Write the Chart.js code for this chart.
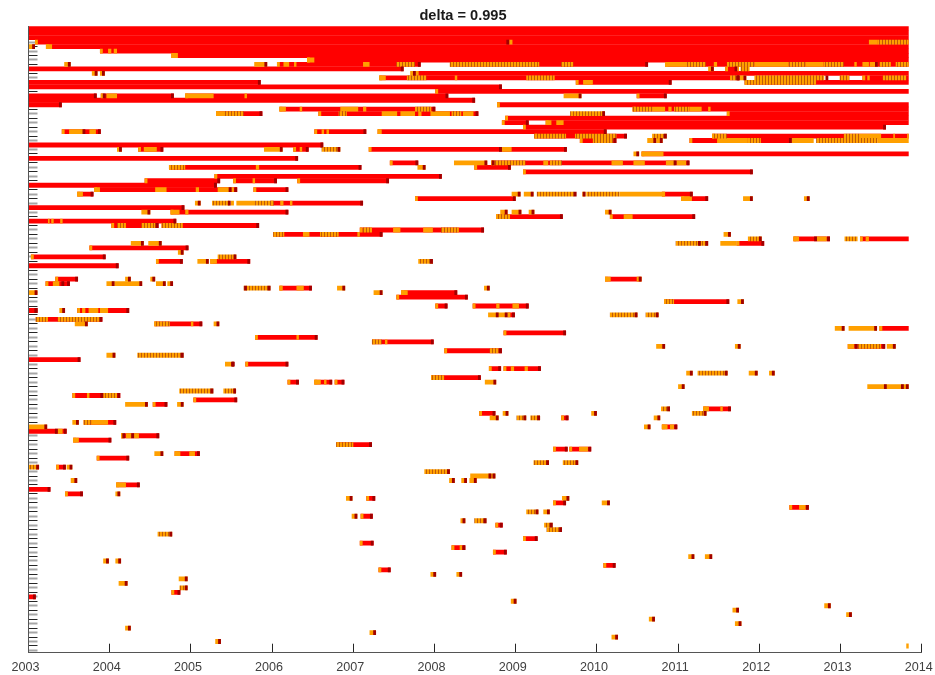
<!DOCTYPE html>
<html>
<head>
<meta charset="utf-8">
<title>delta = 0.995</title>
<script src="https://cdn.jsdelivr.net/npm/chart.js@4"></script>
<style>
  html, body { margin: 0; background: #fff; }
  canvas { display: block; }
</style>
</head>
<body>
<canvas id="chart" width="935" height="675"></canvas>
<script>
// x values are years since the start of 2003, y values are row numbers (0 = top row)
const yearTicks = [0, 1, 2, 3, 4, 5, 6, 7, 8, 9, 10, 11];
const yearLabels = ['2003', '2004', '2005', '2006', '2007', '2008', '2009', '2010', '2011', '2012', '2013', '2014'];
const lastWeek = 10.84;

// long spells: [row, from, to]
const redRuns = [
  [0,0,10.84],[1,0,10.84],[2,0,10.84],[3,.08,10.84],[4,.215,10.84],[5,.88,10.84],[6,1.76,10.84],[7,3.43,10.84],
  [8,3.06,4.83],[8,5.19,7.63],[8,7.84,10.84],[9,0,4.62],[9,8.58,8.73],[10,4.77,10.84],[11,4.32,8.76],[11,10.27,10.84],
  [12,0,2.86],[12,6.74,7.92],[12,8.82,10.84],[13,0,5.83],[14,5.01,10.84],[15,0,.84],[15,.89,1.79],[15,1.93,5.17],[15,7.49,7.86],
  [16,0,5.50],[17,0,.41],[17,5.77,10.84],[18,3.09,5.01],[18,7.44,10.84],[19,2.31,2.88],[19,3.57,5.54],[19,8.60,10.84],
  [20,5.87,10.84],[21,5.83,6.16],[21,6.37,10.84],[22,6.09,10.56],[23,.41,.89],[23,3.52,4.16],[23,4.30,7.12],
  [24,6.23,7.37],[24,8.42,10.84],[25,6.79,7.24],[25,8.14,9.40],[26,0,3.63],[27,1.35,1.66],[27,3.26,3.45],[27,4.19,6.63],
  [28,7.55,10.84],[29,0,3.32],[30,4.45,4.80],[30,5.70,8.14],[31,1.73,4.10],[31,5.49,5.94],[32,6.09,8.92],[33,2.29,5.09],
  [34,1.43,2.36],[34,2.52,3.06],[34,3.31,4.44],[35,0,2.32],[36,.81,2.57],[36,2.77,3.20],[37,.60,.80],[37,7.80,8.18],
  [38,4.76,6.00],[38,8.04,8.37],[39,2.98,4.12],[40,0,1.92],[41,1.75,3.20],[42,5.76,6.58],[42,7.16,8.21],[43,0,1.82],
  [44,1.02,1.60],[44,1.64,2.84],[45,4.08,5.61],[46,3.015,4.36],[47,9.42,9.87],[47,10.24,10.84],[48,8.72,9.06],[49,.75,1.97],
  [51,.03,.95],[52,1.57,1.90],[52,2.24,2.73],[53,0,1.11],[56,.33,.61],[56,7.10,7.55],[57,.21,.51],[58,3.09,3.49],
  [59,4.59,5.28],[60,4.53,5.41],[61,7.83,8.63],[62,5.01,5.16],[62,5.47,6.16],[63,0,.11],[63,.60,1.24],[64,5.90,5.99],
  [65,.09,.91],[66,1.55,2.14],[67,10.48,10.84],[68,5.85,6.62],[69,2.79,3.56],[70,4.23,4.99],[71,10.09,10.55],[72,5.12,5.83],
  [74,0,.64],[75,2.67,3.20],[76,5.67,5.82],[76,5.85,6.31],[78,4.96,5.57],[79,3.19,3.33],[79,3.52,3.74],[79,3.77,3.89],
  [82,.54,1.13],[83,2.03,2.57],[84,1.53,1.71],[85,8.31,8.65],[86,5.55,5.75],[87,6.56,6.65],[88,.68,1.08],[89,7.80,7.99],
  [90,0,.47],[91,1.14,1.61],[92,.55,1.02],[93,3.79,4.23],[94,6.46,6.64],[94,6.66,6.93],[95,1.80,2.11],[96,.84,1.24],
  [98,.34,.46],[102,1.08,1.37],[103,0,.27],[104,.45,.67],[105,4.16,4.27],[106,6.46,6.62],[107,9.37,9.61],[109,4.09,4.24],
  [111,5.75,5.84],[114,6.09,6.27],[115,4.08,4.25],[116,5.21,5.38],[117,5.72,5.89],[120,7.08,7.23],[121,4.31,4.46],
  [126,1.76,1.87],[127,0,.09]
];

// plain orange stretches inside the spells above
const orangeRuns = [
  [3,5.92,5.96],[4,.215,.29],[5,.98,1.02],[5,1.05,1.09],[6,1.76,1.84],[7,3.43,3.52],[8,3.14,3.21],[8,3.27,3.30],[8,4.12,4.20],
  [8,7.84,8.11],[8,8.44,8.48],[8,8.94,9.36],[8,9.57,9.79],[8,10.17,10.20],[8,10.27,10.35],[8,10.36,10.46],[9,8.73,8.75],
  [11,4.32,4.40],[11,5.25,5.28],[11,10.33,10.36],[12,6.83,6.95],[15,.96,1.09],[15,1.93,2.28],[15,2.66,2.69],
  [18,3.09,3.17],[18,3.34,3.37],[18,3.84,4.06],[18,4.12,4.16],[18,7.69,7.84],[18,7.88,7.92],[18,8.14,8.29],[18,8.37,8.40],
  [19,2.31,2.42],[19,4.35,4.54],[19,4.58,4.76],[19,4.80,4.84],[19,4.95,5.19],[19,5.35,5.48],[21,6.37,6.44],[21,6.50,6.59],
  [23,.50,.68],[23,.75,.83],[23,3.61,3.64],[23,3.67,3.70],[23,4.30,4.35],[24,10.24,10.50],[24,10.65,10.67],[24,10.82,10.84],
  [25,8.48,8.86],[25,9.40,9.67],[25,10.46,10.84],[27,1.42,1.58],[27,3.34,3.37],[27,5.83,5.95],[28,7.55,7.82],
  [30,6.34,6.40],[30,7.18,7.32],[30,7.45,7.59],[30,7.85,7.96],[30,7.98,8.10],[31,2.80,2.84],[34,2.76,2.79],
  [36,.81,.88],[36,1.56,1.70],[36,2.06,2.10],[36,2.33,2.48],[36,2.50,2.53],[37,.60,.67],[37,7.28,7.84],[38,8.04,8.17],
  [39,2.49,2.53],[39,2.56,2.79],[39,3.10,3.14],[39,3.22,3.25],[41,1.75,1.86],[41,1.93,1.97],[42,7.33,7.44],[43,.24,.26],[43,.28,.31],[43,.39,.42],
  [45,4.49,4.58],[45,4.86,4.98],[46,3.38,3.46],[46,4.05,4.08],[47,9.42,9.49],[47,9.71,9.83],[47,10.31,10.35],
  [52,2.24,2.32],[56,7.10,7.17],[56,7.49,7.55],[57,.30,.38],[58,3.30,3.39],[58,3.09,3.13],[59,4.59,4.67],
  [62,5.76,5.80],[62,5.96,6.04],[63,.66,.70],[63,.74,.86],[63,.88,.98],[66,2.00,2.03],[67,10.48,10.51],[69,3.30,3.33],
  [70,4.39,4.42],[71,10.09,10.17],[76,5.94,5.98],[76,6.11,6.15],[79,3.52,3.60],[79,3.64,3.67],[82,.72,.75],
  [85,8.31,8.38],[85,8.52,8.55],[88,.78,.98],[89,7.80,7.87],[89,7.90,7.95],[90,.36,.42],[91,1.14,1.17],[91,1.20,1.27],[91,1.30,1.36],
  [94,6.78,6.89],[95,1.80,1.87],[95,1.98,2.05],[102,1.08,1.20],[107,9.49,9.57],[116,5.31,5.34],[92,.55,.62]
];

// stretches where orange and darker weeks alternate
const stripeRuns = [
  [3,10.46,10.84],[8,4.53,4.76],[8,5.19,6.29],[8,6.56,6.71],[8,8.10,8.34],[8,8.60,8.94],[8,9.36,9.57],[8,9.79,10.04],[8,10.48,10.62],[8,10.68,10.84],
  [9,8.77,8.88],[11,4.66,4.90],[11,6.13,6.48],[11,8.64,8.76],[11,8.94,9.80],[11,9.99,10.11],[11,10.52,10.81],[12,8.82,9.70],
  [18,4.76,4.96],[18,7.44,7.69],[18,7.95,8.14],[19,2.42,2.65],[19,3.82,3.92],[19,5.21,5.33],
  [24,6.23,6.62],[24,6.73,7.24],[24,8.42,8.60],[24,10.04,10.24],[25,6.95,7.20],[25,8.86,9.02],[25,9.70,10.46],
  [30,5.70,6.12],[30,6.42,6.57],[31,1.73,1.93],[37,6.26,6.72],[37,6.87,7.28],[39,2.26,2.48],[39,2.79,3.02],[42,5.76,5.93],[44,1.09,1.20],[44,1.39,1.57],[44,1.64,1.90],
  [45,4.12,4.23],[45,5.08,5.30],[46,3.015,3.15],[46,3.59,3.82],[61,7.83,7.95],[65,.09,.24],[65,.36,.88],[66,1.55,1.74],
  [70,4.23,4.35],[71,10.21,10.50],[72,5.68,5.79],[78,4.96,5.12],[82,.92,1.09],[88,.68,.78],[93,3.79,4.00],[47,10.05,10.21]
];

// short orange episodes closed by a dark week: [row, from, to]
const blipRuns = [
  [4,0,.08],[8,.44,.52],[8,2.78,2.94],[9,8.37,8.44],[10,.78,.85],[10,.88,.94],[10,4.70,4.77],[11,8.76,8.84],[15,6.59,6.81],
  [25,7.62,7.73],[25,7.73,7.81],[27,1.09,1.15],[27,2.90,3.13],[28,7.45,7.52],[30,5.24,5.65],[31,4.79,4.89],
  [37,5.95,6.06],[37,6.10,6.22],[37,6.82,6.86],[38,8.80,8.92],[38,9.55,9.62],[39,2.05,2.12],[41,1.39,1.50],[41,5.81,5.90],
  [41,5.95,6.07],[41,6.16,6.23],[41,7.10,7.18],[46,8.56,8.65],[48,1.26,1.42],[48,1.475,1.64],[50,1.84,1.91],[52,2.08,2.22],
  [56,1.19,1.26],[56,1.50,1.56],[57,.96,1.06],[57,1.06,1.40],[57,1.57,1.69],[57,1.71,1.78],[58,3.80,3.90],[58,5.61,5.68],
  [59,0,.11],[59,4.25,4.36],[61,8.73,8.81],[63,.38,.45],[64,5.66,5.90],[66,.57,.73],[66,2.28,2.35],[67,9.93,10.05],[67,10.10,10.45],
  [71,7.73,7.84],[71,8.70,8.77],[71,10.57,10.68],[73,.96,1.07],[75,2.42,2.53],[77,8.10,8.18],[77,8.87,8.98],[77,9.12,9.19],
  [79,5.62,5.76],[80,8.00,8.08],[84,1.19,1.47],[84,1.83,1.91],[86,5.84,5.91],[86,6.93,7.00],[87,5.68,5.79],[87,7.70,7.78],
  [88,.54,.62],[89,0,.23],[89,7.58,7.66],[95,1.55,1.66],[98,.47,.54],[100,5.44,5.75],[101,.52,.60],[101,5.18,5.25],[101,5.33,5.40],
  [101,5.43,5.52],[104,1.07,1.13],[105,3.91,3.99],[105,6.57,6.66],[106,7.06,7.16],[108,6.34,6.42],[109,3.98,4.05],[110,5.32,5.38],
  [118,8.125,8.20],[118,8.33,8.42],[119,.92,.99],[119,1.07,1.14],[122,4.95,5.02],[122,5.27,5.34],[123,1.85,1.96],[124,1.11,1.22],
  [128,5.94,6.01],[129,9.80,9.88],[130,8.67,8.75],[131,10.07,10.14],[132,7.64,7.715],[133,8.70,8.78],[134,1.19,1.26],
  [135,4.20,4.28],[136,7.18,7.26],[137,2.30,2.37]
];

// striped episodes closed by a dark week
const stripeBlips = [
  [19,6.67,7.10],[24,7.68,7.86],[27,3.61,3.84],[47,8.86,9.03],[48,7.97,8.37],[51,2.33,2.56],[52,4.80,4.98],
  [58,2.65,2.98],[64,7.16,7.50],[64,7.60,7.76],[73,1.34,1.91],[77,8.24,8.61],[81,1.857,2.276],[81,2.40,2.556],[85,7.79,7.90],
  [86,8.17,8.35],[87,6.01,6.13],[87,6.18,6.30],[97,6.22,6.41],[97,6.58,6.77],[98,0,.13],[99,4.875,5.19],[108,6.13,6.28],
  [110,5.49,5.64],[111,6.35,6.455],[112,6.38,6.57],[113,1.59,1.77],[125,1.86,1.96]
];

// orange weeks with no dark week after them
const openOrange = [[80,10.33,10.84],[138,10.81,10.84],[48,8.52,8.72],[3,10.35,10.46]];

// single dark weeks that fall inside a spell: [row, week end]
const innerDark = [
  [3,5.92],[8,10.46],[11,8.75],[11,9.85],[15,.95],[23,.70],[27,5.83],[30,5.74],[30,7.98],[36,2.50],[37,6.75],
  [39,2.49],[44,1.60],[48,8.28],[57,.44],[58,2.69],[63,.11],[64,5.79],[71,10.21],[75,2.54],[80,10.57],[80,10.78],[80,10.84],
  [82,.92],[90,.36],[91,1.19],[91,1.30],[47,9.71],[100,5.70]
];

const rowIds = [];
for (let r = 0; r < 140; r++) rowIds.push(r);

const RED = '#ff0000', ORANGE = '#ffa000', DARK = '#a00000';
const CELL = 0.035; // one week-ish cell on the time axis

// orange with a darker stripe every third pixel
function stripePattern(ctx) {
  const c = document.createElement('canvas');
  c.width = 3; c.height = 1;
  const p = c.getContext('2d');
  p.fillStyle = ORANGE;
  p.fillRect(0, 0, 3, 1);
  p.fillStyle = '#c05a08';
  p.fillRect(0, 0, 1, 1);
  return ctx.createPattern(c, 'repeat');
}

const bar = (row, from, to) => ({ x: [from, to], y: row });

const redData = redRuns.map(r => bar(r[0], r[1], r[2]));

// every spell opens with an orange week and closes with a dark one unless it runs off an edge
const orangeData = orangeRuns.map(r => bar(r[0], r[1], r[2]))
  .concat(openOrange.map(r => bar(r[0], r[1], r[2])))
  .concat(blipRuns.map(r => bar(r[0], r[1], r[2])))
  .concat(redRuns.filter(r => r[1] > 0).map(r => bar(r[0], r[1], r[1] + CELL)));

const stripeData = stripeRuns.map(r => bar(r[0], r[1], r[2]))
  .concat(stripeBlips.map(r => bar(r[0], r[1], r[2])));

const darkData = redRuns.filter(r => r[2] < lastWeek).map(r => bar(r[0], r[2] - CELL, r[2]))
  .concat(blipRuns.map(r => bar(r[0], r[2] - CELL, r[2])))
  .concat(stripeBlips.map(r => bar(r[0], r[2] - CELL, r[2])))
  .concat(innerDark.map(r => bar(r[0], r[1] - CELL, r[1])));

const titlePlugin = {
  id: 'plotTitle',
  afterDraw(chart) {
    const ctx = chart.ctx;
    ctx.save();
    ctx.font = 'bold 14.6px "Liberation Sans"';
    ctx.fillStyle = '#1a1a1a';
    ctx.textAlign = 'center';
    ctx.textBaseline = 'alphabetic';
    ctx.fillText('delta = 0.995', 463, 20);
    ctx.restore();
  }
};

const canvas = document.getElementById('chart');
const ctx = canvas.getContext('2d');
const common = { barThickness: 4.8, inflateAmount: 0, borderWidth: 0, grouped: false };

new Chart(ctx, {
  type: 'bar',
  data: {
    datasets: [
      Object.assign({ label: 'dark', data: darkData, backgroundColor: DARK }, common),
      Object.assign({ label: 'stripes', data: stripeData, backgroundColor: stripePattern(ctx) }, common),
      Object.assign({ label: 'orange', data: orangeData, backgroundColor: ORANGE }, common),
      Object.assign({ label: 'red', data: redData, backgroundColor: RED }, common)
    ]
  },
  options: {
    indexAxis: 'y',
    responsive: false,
    animation: false,
    devicePixelRatio: 1,
    layout: { padding: { left: 28.5, right: 13.3, top: 26, bottom: 0 } },
    plugins: { legend: { display: false }, title: { display: false }, tooltip: { enabled: false } },
    scales: {
      x: {
        type: 'linear',
        position: 'bottom',
        min: 0,
        max: 11,
        afterBuildTicks: axis => { axis.ticks = yearTicks.map(v => ({ value: v })); },
        afterFit: axis => { axis.height = 22.3; axis.paddingLeft = 0; axis.paddingRight = 0; },
        ticks: {
          autoSkip: false,
          maxRotation: 0,
          padding: 16,
          labelOffset: -3,
          color: '#404040',
          font: { family: '"Liberation Sans"', size: 12.6 },
          callback: (v, i) => yearLabels[i]
        },
        grid: { drawOnChartArea: false, tickLength: -9, tickColor: '#262626', tickWidth: 1 },
        border: { color: '#555555', width: 1 }
      },
      y: {
        type: 'linear',
        position: 'left',
        reverse: true,
        offset: false,
        min: -0.6,
        max: 139.5,
        afterBuildTicks: axis => { axis.ticks = rowIds.map(v => ({ value: v })); },
        afterFit: axis => { axis.width = 0; axis.paddingTop = 0; axis.paddingBottom = 0; },
        ticks: { display: false, autoSkip: false },
        grid: {
          offset: false,
          drawOnChartArea: false,
          tickLength: -9,
          tickColor: c => (c.index % 2 ? 'rgba(0,0,0,0.35)' : 'rgba(0,0,0,0.85)'),
          tickWidth: c => (c.index % 2 ? 2 : 1)
        },
        border: { color: '#555555', width: 1 }
      }
    }
  },
  plugins: [titlePlugin]
});
</script>
</body>
</html>
